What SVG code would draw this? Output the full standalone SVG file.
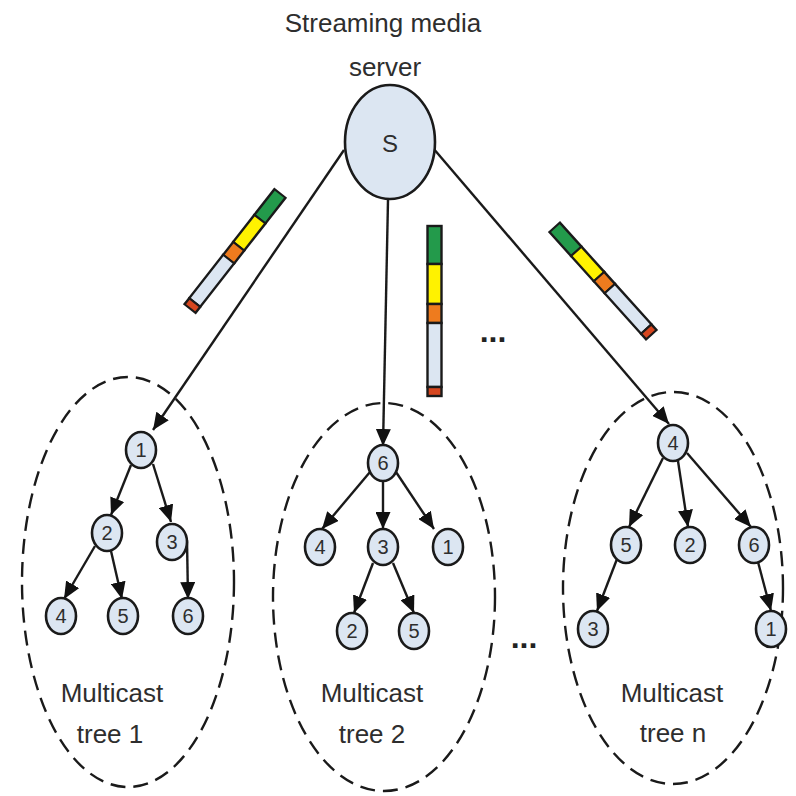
<svg xmlns="http://www.w3.org/2000/svg" width="796" height="796" viewBox="0 0 796 796">
<defs>
<style>
.lbl{font-family:"Liberation Sans",Arial,sans-serif;font-size:26px;fill:#2e2e2e;text-anchor:middle}
.num{font-family:"Liberation Sans",Arial,sans-serif;font-size:20px;fill:#2e2e2e;text-anchor:middle}
.nd{fill:#dce6f2;stroke:#1a1a1a;stroke-width:2.6}
.grp{fill:none;stroke:#1a1a1a;stroke-width:2.4;stroke-dasharray:15 8}
.e{fill:none;stroke:#1a1a1a;stroke-width:2.4;marker-end:url(#ah)}
.seg{stroke:#1a1a1a;stroke-width:2.4}
.dots{font-family:"Liberation Sans",Arial,sans-serif;font-size:32px;font-weight:bold;fill:#222;text-anchor:middle}
</style>
<marker id="ah" markerUnits="userSpaceOnUse" markerWidth="18" markerHeight="15" refX="17" refY="7.5" orient="auto">
<path d="M0,0 L17,7.5 L0,15 z" fill="#111"/>
</marker>
<g id="bar">
<rect class="seg" x="-7" y="-85" width="14" height="38" fill="#239a4b"/>
<rect class="seg" x="-7" y="-47" width="14" height="40" fill="#fff200"/>
<rect class="seg" x="-7" y="-7" width="14" height="19" fill="#ee7b1e"/>
<rect class="seg" x="-7" y="12" width="14" height="64" fill="#dce6f2"/>
<rect class="seg" x="-7" y="76" width="14" height="9" fill="#d6461f"/>
</g>
</defs>
<rect width="796" height="796" fill="#fff"/>

<g id="labels">
<text class="lbl" x="383" y="32">Streaming media</text>
<text class="lbl" x="385" y="76">server</text>
</g>

<g id="connectors">
<line class="e" x1="344" y1="150" x2="153" y2="430"/>
<line class="e" x1="388" y1="200" x2="383" y2="446"/>
<line class="e" x1="433" y1="148" x2="669" y2="424"/>
<!-- tree 1 -->
<line class="e" x1="131" y1="465" x2="111" y2="515"/>
<line class="e" x1="153" y1="464" x2="171" y2="522"/>
<line class="e" x1="95" y1="546" x2="64" y2="599"/>
<line class="e" x1="111" y1="551" x2="122" y2="599"/>
<line class="e" x1="187" y1="540" x2="188" y2="599"/>
<!-- tree 2 -->
<line class="e" x1="370" y1="472" x2="322" y2="529"/>
<line class="e" x1="383" y1="481" x2="383" y2="529"/>
<line class="e" x1="396" y1="472" x2="434" y2="529"/>
<line class="e" x1="373" y1="563" x2="354" y2="613"/>
<line class="e" x1="393" y1="563" x2="414" y2="613"/>
<!-- tree n -->
<line class="e" x1="663" y1="458" x2="629" y2="527"/>
<line class="e" x1="678" y1="461" x2="688" y2="527"/>
<line class="e" x1="687" y1="453" x2="751" y2="527"/>
<line class="e" x1="617" y1="559" x2="597" y2="611"/>
<line class="e" x1="758" y1="562" x2="771" y2="611"/>
</g>

<g id="server">
<ellipse class="nd" cx="390" cy="142" rx="45" ry="57"/>
<text class="num" x="390" y="152" style="font-size:24px">S</text>
</g>

<g id="packets">
<use href="#bar" transform="translate(235,251) rotate(38) scale(1,0.86)"/>
<use href="#bar" transform="translate(434.5,311)"/>
<use href="#bar" transform="translate(603,281) rotate(-42) scale(1,0.85)"/>
<text class="dots" x="493" y="342">...</text>
<text class="dots" x="524" y="648">...</text>
</g>

<g id="tree1">
<ellipse class="grp" cx="128" cy="582" rx="106" ry="205"/>
<g id="t1n1"><ellipse class="nd" cx="141" cy="450" rx="15" ry="18"/><text class="num" x="141" y="457">1</text></g>
<g id="t1n2"><ellipse class="nd" cx="107" cy="533" rx="15" ry="18"/><text class="num" x="107" y="540">2</text></g>
<g id="t1n3"><ellipse class="nd" cx="172" cy="542" rx="15" ry="18"/><text class="num" x="172" y="549">3</text></g>
<g id="t1n4"><ellipse class="nd" cx="61" cy="616" rx="15" ry="18"/><text class="num" x="61" y="623">4</text></g>
<g id="t1n5"><ellipse class="nd" cx="123" cy="616" rx="15" ry="18"/><text class="num" x="123" y="623">5</text></g>
<g id="t1n6"><ellipse class="nd" cx="188" cy="616" rx="15" ry="18"/><text class="num" x="188" y="623">6</text></g>
<text class="lbl" x="112" y="702">Multicast</text>
<text class="lbl" x="110" y="743">tree 1</text>
</g>

<g id="tree2">
<ellipse class="grp" cx="384" cy="597" rx="111" ry="194"/>
<g id="t2n6"><ellipse class="nd" cx="383" cy="463" rx="15" ry="18"/><text class="num" x="383" y="470">6</text></g>
<g id="t2n4"><ellipse class="nd" cx="320" cy="547" rx="15" ry="18"/><text class="num" x="320" y="554">4</text></g>
<g id="t2n3"><ellipse class="nd" cx="383" cy="547" rx="15" ry="18"/><text class="num" x="383" y="554">3</text></g>
<g id="t2n1"><ellipse class="nd" cx="448" cy="547" rx="15" ry="18"/><text class="num" x="448" y="554">1</text></g>
<g id="t2n2"><ellipse class="nd" cx="352" cy="631" rx="15" ry="18"/><text class="num" x="352" y="638">2</text></g>
<g id="t2n5"><ellipse class="nd" cx="414" cy="631" rx="15" ry="18"/><text class="num" x="414" y="638">5</text></g>
<text class="lbl" x="372" y="702">Multicast</text>
<text class="lbl" x="372" y="743">tree 2</text>
</g>

<g id="treen">
<ellipse class="grp" cx="673" cy="588" rx="110" ry="196"/>
<g id="tnn4"><ellipse class="nd" cx="673" cy="443" rx="15" ry="18"/><text class="num" x="673" y="450">4</text></g>
<g id="tnn5"><ellipse class="nd" cx="626" cy="545" rx="15" ry="18"/><text class="num" x="626" y="552">5</text></g>
<g id="tnn2"><ellipse class="nd" cx="690" cy="545" rx="15" ry="18"/><text class="num" x="690" y="552">2</text></g>
<g id="tnn6"><ellipse class="nd" cx="754" cy="545" rx="15" ry="18"/><text class="num" x="754" y="552">6</text></g>
<g id="tnn3"><ellipse class="nd" cx="593" cy="629" rx="15" ry="18"/><text class="num" x="593" y="636">3</text></g>
<g id="tnn1"><ellipse class="nd" cx="771" cy="629" rx="15" ry="18"/><text class="num" x="771" y="636">1</text></g>
<text class="lbl" x="672" y="702">Multicast</text>
<text class="lbl" x="673" y="742">tree n</text>
</g>
</svg>
